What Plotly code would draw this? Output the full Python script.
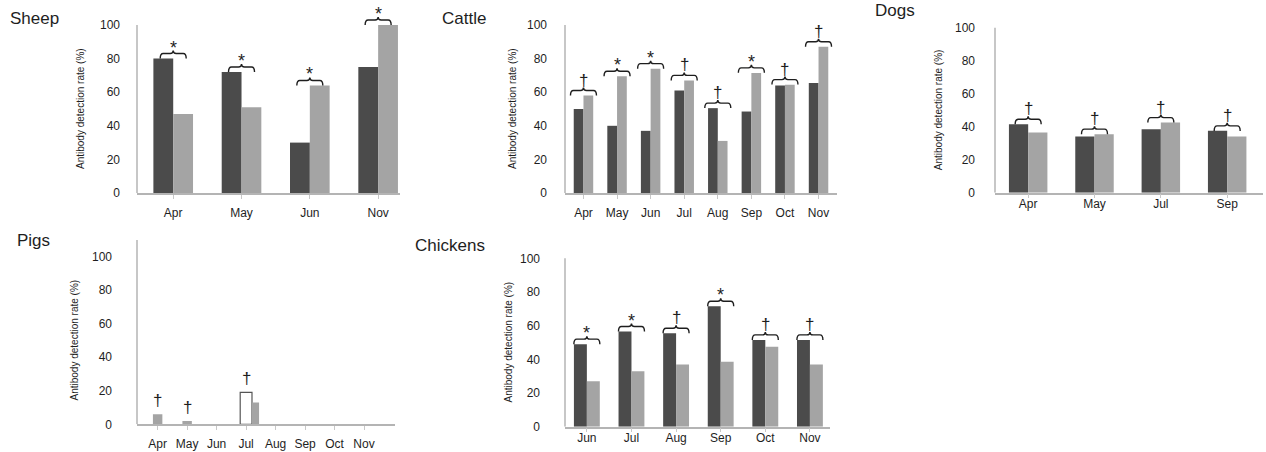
import plotly.graph_objects as go

W, H = 1266, 452
HEFF = 445.0   # empirical vertical calibration of the rendered page

# ---------------- data ----------------
sheep_months = ["Apr", "May", "Jun", "Nov"]
sheep_dark = [80, 72, 30, 75]
sheep_light = [47, 51, 64, 100]
sheep_sig = ["*", "*", "*", "*"]

cattle_months = ["Apr", "May", "Jun", "Jul", "Aug", "Sep", "Oct", "Nov"]
cattle_dark = [50, 40, 37, 61, 50.5, 48.5, 64, 65.5]
cattle_light = [58, 69.5, 74, 67, 31, 71.5, 64.5, 87]
cattle_sig = ["†", "*", "*", "†", "†", "*", "†", "†"]

dogs_months = ["Apr", "May", "Jul", "Sep"]
dogs_dark = [41.5, 34, 38.5, 37.5]
dogs_light = [36.5, 35.5, 42.5, 34]
dogs_sig = ["†", "†", "†", "†"]

pigs_months = ["Apr", "May", "Jun", "Jul", "Aug", "Sep", "Oct", "Nov"]
pigs_dark = [None, None, None, 19, None, None, None, None]
pigs_light = [6, 2, None, 13, None, None, None, None]
pigs_sig = ["†", "†", "", "†", "", "", "", ""]

chick_months = ["Jun", "Jul", "Aug", "Sep", "Oct", "Nov"]
chick_dark = [49, 56.5, 55.5, 71.5, 51.5, 51.5]
chick_light = [27, 33, 37, 38.5, 47.5, 37]
chick_sig = ["*", "*", "†", "*", "†", "†"]

y_ticks = [0, 20, 40, 60, 80, 100]

# ---------------- style ----------------
FONT = "Arial, Liberation Sans, sans-serif"
DARK = "#4b4b4b"
LIGHT = "#a4a4a4"
AXC = "#b4b4b4"
INK = "#1e1e1e"
YEXT = 125  # extended range so marks above 100 remain visible

panels = [
    dict(name="Sheep", months=sheep_months, dark=sheep_dark, light=sheep_light, sig=sheep_sig,
         px=(137, 400), py=(193, 25), yline=100, xr=(-0.53, 3.32), bracket=True,
         title=(8, 18), ytitle=80, ystand=16, xstand=4),
    dict(name="Cattle", months=cattle_months, dark=cattle_dark, light=cattle_light, sig=cattle_sig,
         px=(565, 837), py=(193, 25), yline=100, xr=(-0.55, 7.55), bracket=True,
         title=(440, 18), ytitle=512, ystand=17, xstand=4),
    dict(name="Dogs", months=dogs_months, dark=dogs_dark, light=dogs_light, sig=dogs_sig,
         px=(995, 1263), py=(192.7, 27.7), yline=100, xr=(-0.5, 3.54), bracket=True,
         title=(873, 10), ytitle=938, ystand=19, xstand=-5),
    dict(name="Pigs", months=pigs_months, dark=pigs_dark, light=pigs_light, sig=pigs_sig,
         px=(137, 395), py=(424.3, 256.7), yline=110, xr=(-0.7, 8.05), bracket=False,
         title=(15, 240), ytitle=74, ystand=24, xstand=4),
    dict(name="Chickens", months=chick_months, dark=chick_dark, light=chick_light, sig=chick_sig,
         px=(565, 830), py=(426.7, 258.3), yline=100, xr=(-0.49, 5.45), bracket=True,
         title=(413, 245), ytitle=508, ystand=24, xstand=-5),
]

fig = go.Figure()
shapes = []
annotations = []

for k, p in enumerate(panels):
    n = k + 1
    xa = "x" if n == 1 else f"x{n}"
    ya = "y" if n == 1 else f"y{n}"
    idx = list(range(len(p["months"])))
    is_pigs = p["name"] == "Pigs"

    if is_pigs:
        # pig panel: single bars sit on the month; the open bar of July is centred
        wd, wl = 0.40, 0.32
        light_off = [(-wl / 2 if (d is None) else wd / 2) for d in p["dark"]]
        light_w = [(wl if (d is None) else 0.24) for d in p["dark"]]
        fig.add_trace(go.Bar(
            x=idx, y=p["dark"], xaxis=xa, yaxis=ya, width=wd, offset=-wd / 2,
            marker=dict(color="white", line=dict(color="#555555", width=1.2)),
            showlegend=False, hoverinfo="skip"))
        fig.add_trace(go.Bar(
            x=idx, y=p["light"], xaxis=xa, yaxis=ya, width=light_w, offset=light_off,
            marker=dict(color=LIGHT, line=dict(width=0)),
            showlegend=False, hoverinfo="skip"))
    else:
        fig.add_trace(go.Bar(
            x=idx, y=p["dark"], xaxis=xa, yaxis=ya,
            marker=dict(color=DARK, line=dict(width=0)),
            showlegend=False, hoverinfo="skip"))
        fig.add_trace(go.Bar(
            x=idx, y=p["light"], xaxis=xa, yaxis=ya,
            marker=dict(color=LIGHT, line=dict(width=0)),
            showlegend=False, hoverinfo="skip"))

    x0p, x1p = p["px"]
    yb, y100 = p["py"]          # pixel of value 0 and value 100 (reference picture)
    spy = (yb - y100) / 100.0   # px per unit
    ytop_px = yb - YEXT * spy
    dom_x = [x0p / W, x1p / W]
    dom_y = [1 - yb / HEFF, min(1.0, 1 - ytop_px / HEFF)]
    yext = YEXT * (dom_y[1] - dom_y[0]) / ((ytop_px * -1 + yb) / HEFF)
    axkey_x = "xaxis" if n == 1 else f"xaxis{n}"
    axkey_y = "yaxis" if n == 1 else f"yaxis{n}"
    fig.update_layout({
        axkey_x: dict(domain=dom_x, anchor=ya, range=list(p["xr"]),
                      tickmode="array", tickvals=idx, ticktext=p["months"],
                      showgrid=False, zeroline=False, showline=True, linecolor=AXC, linewidth=1.5,
                      ticks="outside", ticklen=4, tickcolor="#c8c8c8", tickwidth=1,
                      ticklabelstandoff=p["xstand"],
                      tickfont=dict(family=FONT, size=12, color=INK), fixedrange=True),
        axkey_y: dict(domain=dom_y, anchor=xa, range=[0, yext],
                      tickmode="array", tickvals=y_ticks,
                      showgrid=False, zeroline=False, showline=False,
                      ticks="", ticklabelstandoff=p["ystand"],
                      tickfont=dict(family=FONT, size=12, color=INK), fixedrange=True),
    })
    # visible y-axis line (only up to its top value)
    shapes.append(dict(type="line", xref=f"{xa} domain", yref=ya, x0=0, x1=0,
                       y0=0, y1=p["yline"], line=dict(color=AXC, width=1.5)))

    spx = (x1p - x0p) / (p["xr"][1] - p["xr"][0])

    # panel title
    annotations.append(dict(text=p["name"], xref="paper", yref="paper",
                            x=p["title"][0] / W, y=1 - p["title"][1] / HEFF,
                            xanchor="left", yanchor="middle", showarrow=False,
                            font=dict(family=FONT, size=17, color=INK)))
    # y-axis title
    annotations.append(dict(text="Antibody detection rate (%)", xref="paper", yref=ya,
                            x=p["ytitle"] / W, y=50, xanchor="center", yanchor="middle",
                            textangle=-90, showarrow=False,
                            font=dict(family=FONT, size=10, color=INK)))

    for i in idx:
        vals = [v for v in (p["dark"][i], p["light"][i]) if v is not None]
        if not vals or not p["sig"][i]:
            continue
        top = max(vals)
        sym = p["sig"][i]
        if p["bracket"]:
            lev = top + 3.0
            hw = 13 / spx
            c = 3 / spx
            d = 5 / spy
            t = 3 / spy
            xl, xr_ = i - hw, i + hw
            path = (f"M {xl},{lev - d} Q {xl},{lev} {xl + c},{lev} "
                    f"L {i - c},{lev} Q {i},{lev} {i},{lev + t} "
                    f"Q {i},{lev} {i + c},{lev} L {xr_ - c},{lev} "
                    f"Q {xr_},{lev} {xr_},{lev - d}")
            shapes.append(dict(type="path", xref=xa, yref=ya, path=path,
                               line=dict(color=INK, width=1.4)))
            base = lev
            yshift = -6 if sym == "*" else -1
        else:
            base = top
            yshift = 2
        annotations.append(dict(text=sym, xref=xa, yref=ya, x=i, y=base,
                                xanchor="center", yanchor="bottom", yshift=yshift,
                                showarrow=False,
                                font=dict(family=FONT, size=18 if sym == "*" else 17, color=INK)))

fig.update_layout(
    width=W, height=H, autosize=False,
    margin=dict(l=0, r=0, t=0, b=0, pad=0),
    paper_bgcolor="white", plot_bgcolor="white",
    barmode="group", bargap=0.42, bargroupgap=0,
    shapes=shapes, annotations=annotations,
    font=dict(family=FONT, color=INK),
)

fig.write_html("out.html", config={"displayModeBar": False},
               post_script="document.body.style.margin='0px';document.body.style.overflow='hidden';")
